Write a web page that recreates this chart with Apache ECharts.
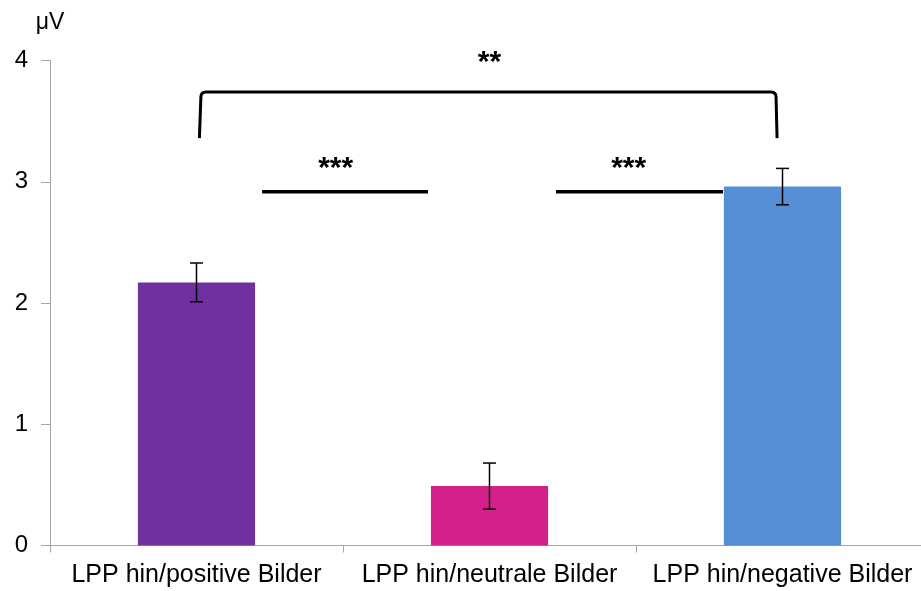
<!DOCTYPE html>
<html>
<head>
<meta charset="utf-8">
<style>
  html, body { margin: 0; padding: 0; background: #fff; }
  #chart { width: 921px; height: 591px; }
</style>
<script src="https://cdn.jsdelivr.net/npm/echarts@6/dist/echarts.min.js"></script>
</head>
<body>
<div id="chart"></div>
<script>
// LPP amplitudes (µV) per picture category, with standard errors
const categories = ['LPP hin/positive Bilder', 'LPP hin/neutrale Bilder', 'LPP hin/negative Bilder'];
const meanValues = [2.17, 0.49, 2.96];
const stdErrors = [0.16, 0.19, 0.15];
const barColors = ['#7030A0', '#D2218B', '#558ED5'];
const yTicks = [0, 1, 2, 3, 4];

// significance annotations, x in category units (category i spans i..i+1), y in µV
const bracketSpan = [[0.515, 2.478, 3.74, 3.36]];      // [xStart, xEnd, yTop, yFoot]
const pairLines = [[0.724, 1.29, 2.918], [1.727, 2.297, 2.918]]; // [xStart, xEnd, y]
const starLabels = [['**', 1.5, 3.98], ['***', 0.975, 3.11], ['***', 1.975, 3.11]];

const FONT = '"Liberation Sans", Arial, sans-serif';
const axisGray = '#a6a6a6';

const chart = echarts.init(document.getElementById('chart'), null, { renderer: 'canvas' });

const errorData = meanValues.map((v, i) => [i, v - stdErrors[i], v + stdErrors[i]]);

const option = {
  animation: false,
  backgroundColor: '#ffffff',
  grid: {
    left: 50, top: 60.5, width: 879, height: 485,
    containLabel: false,
    outerBoundsMode: 'none'
  },
  xAxis: [
    {
      type: 'category',
      data: categories,
      axisLine: { show: true, lineStyle: { color: axisGray, width: 1 } },
      axisTick: { show: true, length: 7, lineStyle: { color: axisGray } },
      axisLabel: { color: '#000', fontFamily: FONT, fontSize: 25, margin: 17, interval: 0 },
      splitLine: { show: false }
    },
    { type: 'value', min: 0, max: 3, show: false }
  ],
  yAxis: {
    type: 'value',
    min: yTicks[0],
    max: yTicks[yTicks.length - 1],
    interval: 1,
    name: 'μV',
    nameLocation: 'end',
    nameGap: 26,
    nameTextStyle: { color: '#000', fontFamily: FONT, fontSize: 23, align: 'center' },
    axisLine: { show: true, lineStyle: { color: axisGray, width: 1 } },
    axisTick: { show: true, length: 9, lineStyle: { color: axisGray } },
    axisLabel: { color: '#000', fontFamily: FONT, fontSize: 24, margin: 22 },
    splitLine: { show: false }
  },
  series: [
    {
      type: 'bar',
      barWidth: '40%',
      data: meanValues.map((v, i) => ({ value: v, itemStyle: { color: barColors[i] } })),
      z: 2
    },
    {
      // error bars
      type: 'custom',
      xAxisIndex: 0,
      data: errorData,
      encode: { x: 0, y: [1, 2] },
      z: 5,
      renderItem: function (params, api) {
        const x = api.value(0);
        const lo = api.coord([x, api.value(1)]);
        const hi = api.coord([x, api.value(2)]);
        const cap = 6.5;
        const style = { stroke: '#000', lineWidth: 1.5, fill: null };
        return {
          type: 'group',
          children: [
            { type: 'line', shape: { x1: lo[0], y1: lo[1], x2: hi[0], y2: hi[1] }, style },
            { type: 'line', shape: { x1: hi[0] - cap, y1: hi[1], x2: hi[0] + cap, y2: hi[1] }, style },
            { type: 'line', shape: { x1: lo[0] - cap, y1: lo[1], x2: lo[0] + cap, y2: lo[1] }, style }
          ]
        };
      }
    },
    {
      // outer bracket
      type: 'custom',
      xAxisIndex: 1,
      data: bracketSpan,
      encode: { x: [0, 1], y: [2, 3] },
      clip: false,
      z: 6,
      renderItem: function (params, api) {
        const a = api.coord([api.value(0), api.value(2)]);
        const b = api.coord([api.value(1), api.value(2)]);
        const footL = api.coord([api.value(0), api.value(3)]);
        const footR = api.coord([api.value(1), api.value(3)]);
        const r = 5;
        const d = 'M' + (footL[0] - 1.5) + ',' + footL[1] +
          ' L' + a[0] + ',' + (a[1] + r) +
          ' Q' + a[0] + ',' + a[1] + ' ' + (a[0] + r) + ',' + a[1] +
          ' L' + (b[0] - r) + ',' + b[1] +
          ' Q' + b[0] + ',' + b[1] + ' ' + b[0] + ',' + (b[1] + r) +
          ' L' + (footR[0] + 1) + ',' + footR[1];
        return {
          type: 'path',
          shape: { pathData: d },
          style: { stroke: '#000', lineWidth: 3, fill: null, lineJoin: 'round' }
        };
      }
    },
    {
      // pairwise comparison lines
      type: 'custom',
      xAxisIndex: 1,
      data: pairLines,
      encode: { x: [0, 1], y: 2 },
      clip: false,
      z: 6,
      renderItem: function (params, api) {
        const p1 = api.coord([api.value(0), api.value(2)]);
        const p2 = api.coord([api.value(1), api.value(2)]);
        return {
          type: 'line',
          shape: { x1: p1[0], y1: p1[1], x2: p2[0], y2: p2[1] },
          style: { stroke: '#000', lineWidth: 3.5 }
        };
      }
    },
    {
      // significance stars
      type: 'custom',
      xAxisIndex: 1,
      data: starLabels,
      encode: { x: 1, y: 2 },
      clip: false,
      z: 7,
      renderItem: function (params, api) {
        const p = api.coord([api.value(1), api.value(2)]);
        return {
          type: 'text',
          x: p[0],
          y: p[1],
          style: {
            text: starLabels[params.dataIndex][0],
            fill: '#000',
            font: 'bold 30px ' + FONT,
            align: 'center',
            verticalAlign: 'middle'
          }
        };
      }
    }
  ]
};

chart.setOption(option);
</script>
</body>
</html>
